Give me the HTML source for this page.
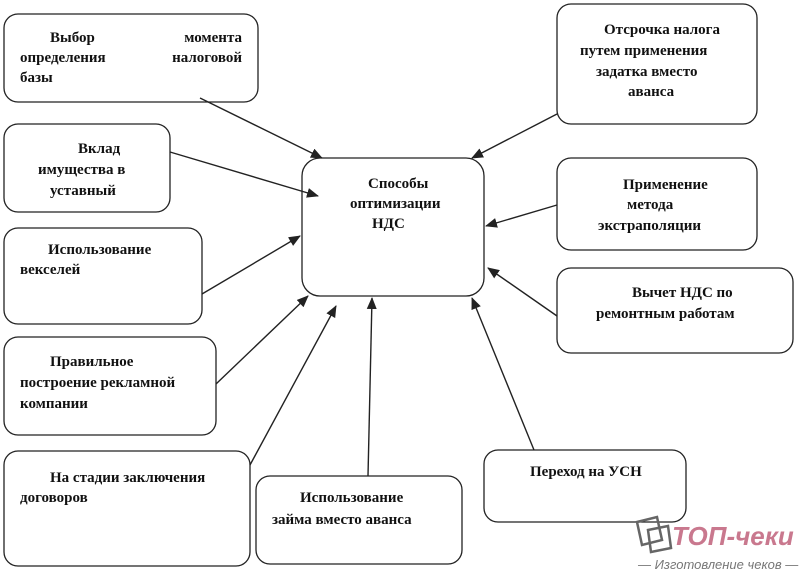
<!DOCTYPE html>
<html><head><meta charset="utf-8"><style>
body{margin:0;background:#fff;}
svg{display:block;}
text{font-family:"Liberation Serif","DejaVu Serif",serif;font-weight:bold;font-size:15px;fill:#111;}
rect{fill:#fff;stroke:#222;stroke-width:1.3;}
line{stroke:#222;stroke-width:1.4;marker-end:url(#a);}
</style></head><body>
<svg width="800" height="574" viewBox="0 0 800 574">
<defs><marker id="a" markerWidth="12" markerHeight="10" refX="11" refY="5" orient="auto" markerUnits="userSpaceOnUse"><path d="M0,0 L12,5 L0,10 Z" fill="#222"/></marker></defs>
<rect x="4" y="14" width="254" height="88" rx="14"/>
<rect x="4" y="124" width="166" height="88" rx="14"/>
<rect x="4" y="228" width="198" height="96" rx="14"/>
<rect x="4" y="337" width="212" height="98" rx="14"/>
<rect x="4" y="451" width="246" height="115" rx="14"/>
<rect x="256" y="476" width="206" height="88" rx="14"/>
<rect x="484" y="450" width="202" height="72" rx="14"/>
<rect x="557" y="268" width="236" height="85" rx="14"/>
<rect x="557" y="158" width="200" height="92" rx="14"/>
<rect x="557" y="4" width="200" height="120" rx="14"/>
<rect x="302" y="158" width="182" height="138" rx="18"/>
<line x1="200" y1="98" x2="322" y2="158"/>
<line x1="170" y1="152" x2="318" y2="196"/>
<line x1="202" y1="294" x2="300" y2="236"/>
<line x1="216" y1="384" x2="308" y2="296"/>
<line x1="250" y1="465" x2="336" y2="306"/>
<line x1="368" y1="476" x2="372" y2="298"/>
<line x1="534" y1="450" x2="472" y2="298"/>
<line x1="557" y1="316" x2="488" y2="268"/>
<line x1="557" y1="205" x2="486" y2="226"/>
<line x1="557" y1="114" x2="472" y2="158"/>
<text x="50" y="42">Выбор</text><text x="242" y="42" text-anchor="end">момента</text>
<text x="20" y="62">определения</text><text x="242" y="62" text-anchor="end">налоговой</text>
<text x="20" y="82">базы</text>
<text x="78" y="153">Вклад</text><text x="38" y="174">имущества в</text><text x="50" y="195">уставный</text>
<text x="48" y="254">Использование</text><text x="20" y="274">векселей</text>
<text x="50" y="366">Правильное</text><text x="20" y="387">построение рекламной</text><text x="20" y="408">компании</text>
<text x="50" y="482">На стадии заключения</text><text x="20" y="502">договоров</text>
<text x="300" y="502">Использование</text><text x="272" y="524">займа вместо аванса</text>
<text x="530" y="476">Переход  на УСН</text>
<text x="632" y="297">Вычет НДС по</text><text x="596" y="318">ремонтным работам</text>
<text x="623" y="189">Применение</text><text x="627" y="209">метода</text><text x="598" y="230">экстраполяции</text>
<text x="604" y="34">Отсрочка налога</text><text x="580" y="55">путем применения</text><text x="596" y="76">задатка вместо</text><text x="628" y="96">аванса</text>
<text x="368" y="188">Способы</text><text x="350" y="208">оптимизации</text><text x="372" y="228">НДС</text>
<g fill="none" stroke="#666" stroke-width="2.5"><path d="M637,522 L657,517 L662,540 L642,545 Z"/><path d="M648,530 L668,526 L671,548 L651,552 Z"/></g>
<text x="672" y="545" style="font-family:'Liberation Sans',sans-serif;font-style:italic;font-size:26px;fill:#c9788e">ТОП-чеки</text>
<text x="638" y="569" style="font-family:'Liberation Sans',sans-serif;font-style:italic;font-weight:normal;font-size:13px;fill:#777">— Изготовление чеков —</text>
</svg>
</body></html>
